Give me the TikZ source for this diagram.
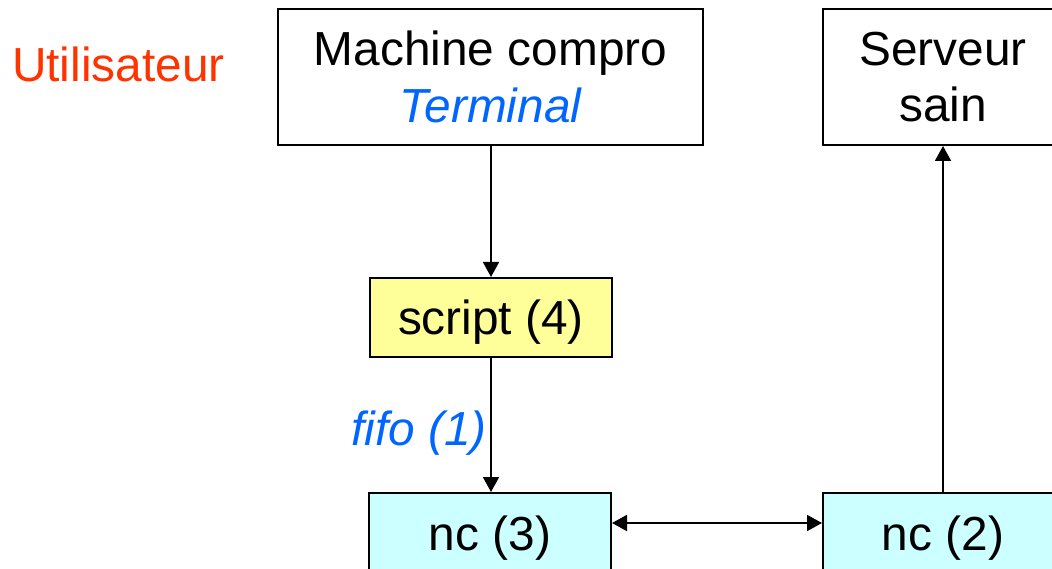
\documentclass[tikz,border=0pt]{standalone}
\usepackage{fontspec}
\setmainfont{Liberation Sans}
\usepackage{xcolor}
\usetikzlibrary{arrows.meta,positioning}
\definecolor{userred}{RGB}{255,51,0}
\definecolor{noteblue}{RGB}{0,102,255}
\definecolor{scriptyellow}{RGB}{255,255,153}
\definecolor{nccyan}{RGB}{204,255,255}
\tikzset{
  box/.style={draw=black,line width=0.05cm,inner sep=0pt,align=center,
    font=\fontsize{34}{40}\selectfont},
  procbox/.style={box,minimum height=1.975cm,text height=1.0cm,text depth=0.125cm},
  flow/.style={line width=0.045cm,-{Triangle[length=0.375cm,width=0.4cm]}},
  twoway/.style={line width=0.045cm,{Triangle[length=0.375cm,width=0.4cm]}-{Triangle[length=0.375cm,width=0.4cm]}},
  note/.style={font=\fontsize{34}{40}\selectfont\itshape,text=noteblue}
}

\begin{document}
\begin{tikzpicture}
\useasboundingbox (0,0) rectangle (26.3,14.2);
% hosts
\node[box,minimum width=10.625cm,minimum height=3.4cm] (machine) at (12.2625,12.275)
  {Machine compro\\{\itshape\color{noteblue}Terminal}};
\node[box,minimum width=6cm,minimum height=3.4cm] (serveur) at (23.575,12.275)
  {Serveur\\sain};
\node[font=\fontsize{34}{40}\selectfont,text=userred,anchor=base] (user) at (2.96,12.17) {Utilisateur};
% processes
\node[procbox,fill=scriptyellow,minimum width=6.05cm] (script) at (12.275,6.2625) {script (4)};
\node[procbox,fill=nccyan,minimum width=6.05cm] (nc3) at (12.25,0.8875) {nc (3)};
\node[procbox,fill=nccyan,minimum width=6cm] (nc2) at (23.575,0.8875) {nc (2)};
% links
\draw[flow] (machine.south -| script.north) -- (script.north);
\draw[flow] (script.south) -- (script.south |- nc3.north)
  node[note,pos=0.56,anchor=east,inner sep=0.08cm] (fifo) {fifo (1)};
\draw[twoway] ([yshift=0.2375cm]nc3.east) -- ([yshift=0.2375cm]nc2.west);
\draw[flow] (nc2.north) -- (serveur.south);
\end{tikzpicture}
\end{document}
